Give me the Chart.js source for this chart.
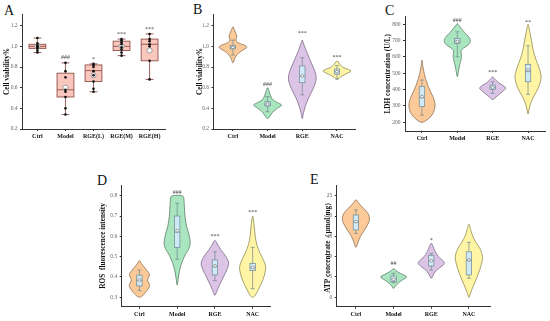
<!DOCTYPE html>
<html lang="en">
<head>
<meta charset="UTF-8">
<title>Cell viability, LDH, ROS and ATP panels</title>
<script src="https://cdn.jsdelivr.net/npm/chart.js"></script>
<style>
  body { margin: 0; background: #fff; }
  #fig { position: relative; width: 550px; height: 321px; overflow: hidden; }
  #fig canvas { position: absolute; }
  .tag { position: absolute; font-family: 'Liberation Serif', serif; font-size: 14px; line-height: 1; color: #111; }
</style>
</head>
<body>
<div id="fig">
  <span class="tag" style="left:4px;top:3.8px">A</span>
  <span class="tag" style="left:193px;top:3.3px">B</span>
  <span class="tag" style="left:385px;top:4.3px">C</span>
  <span class="tag" style="left:97px;top:173.6px">D</span>
  <span class="tag" style="left:310px;top:173.3px">E</span>

  <canvas id="chartA" width="180" height="145" style="left:0px;top:0px"></canvas>
  <canvas id="chartB" width="167" height="145" style="left:193px;top:0px"></canvas>
  <canvas id="chartC" width="168" height="147" style="left:382px;top:0px"></canvas>
  <canvas id="chartD" width="180" height="151" style="left:96px;top:170px"></canvas>
  <canvas id="chartE" width="176" height="151" style="left:320px;top:170px"></canvas>
</div>

<script>
// ---------- data ----------
const namesA = ['Ctrl', 'Model', 'RGE(L)', 'RGE(M)', 'RGE(H)'];
const names = ['Ctrl', 'Model', 'RGE', 'NAC'];

// A: cell viability, single wells + box stats [min, q1, median, q3, max]
const ptsA_Ctrl = [1.08, 1.03, 1.01, 1.00, 0.99, 0.98, 0.96, 0.94];
const ptsA_Model = [0.84, 0.76, 0.70, 0.58, 0.56, 0.51, 0.40, 0.34];
const ptsA_L = [0.83, 0.82, 0.80, 0.76, 0.72, 0.66, 0.59, 0.56];
const ptsA_M = [1.07, 1.06, 1.04, 1.02, 0.99, 0.97, 0.94, 0.91];
const ptsA_H = [1.12, 1.07, 1.05, 1.02, 1.00, 0.86, 0.68];
const boxA = [[0.94, 0.98, 1.00, 1.02, 1.08], [0.34, 0.51, 0.58, 0.74, 0.84], [0.56, 0.66, 0.765, 0.82, 0.83], [0.91, 0.96, 1.00, 1.05, 1.07], [0.68, 0.86, 1.02, 1.07, 1.12]];
const meanA = [1.00, 0.60, 0.72, 1.00, 0.96];
const markA = ['', '###', '*', '***', '***'];
const markPosA = [null, 0.894, 0.878, 1.117, 1.165];
const ticksA = [0.2, 0.4, 0.6, 0.8, 1.0, 1.2];

// violin profiles: [value, relative half width]
const violinB_Ctrl = [[0.84, 0], [0.87, 0.1], [0.90, 0.2], [0.94, 0.45], [0.97, 0.8], [0.99, 1.0], [1.01, 0.85], [1.03, 0.45], [1.05, 0.25], [1.07, 0.22], [1.10, 0.28], [1.13, 0.2], [1.16, 0.1], [1.19, 0]];
const violinB_Model = [[0.30, 0], [0.32, 0.15], [0.36, 0.35], [0.40, 0.7], [0.43, 1.0], [0.45, 0.8], [0.48, 0.4], [0.52, 0.22], [0.56, 0.12], [0.60, 0]];
const violinB_RGE = [[0.30, 0], [0.35, 0.08], [0.42, 0.22], [0.50, 0.45], [0.58, 0.75], [0.65, 0.95], [0.70, 1.0], [0.76, 0.9], [0.84, 0.65], [0.92, 0.4], [0.98, 0.22], [1.03, 0.08], [1.06, 0]];
const violinB_NAC = [[0.68, 0], [0.70, 0.2], [0.73, 0.6], [0.76, 1.0], [0.78, 0.75], [0.80, 0.4], [0.83, 0.18], [0.86, 0]];
const boxB = [[0.916, 0.975, 0.99, 1.01, 1.06], [0.367, 0.423, 0.44, 0.464, 0.513], [0.53, 0.648, 0.71, 0.81, 0.89], [0.684, 0.73, 0.755, 0.78, 0.813]];
const meanB = [0.99, 0.44, 0.715, 0.755];
const markB = ['', '###', '***', '***'];
const markPosB = [null, 0.636, 1.126, 0.894];

const violinC_Ctrl = [[200, 0], [210, 0.3], [230, 0.6], [260, 0.88], [300, 1.0], [340, 0.92], [380, 0.7], [420, 0.48], [460, 0.3], [500, 0.17], [540, 0.07], [580, 0]];
const violinC_Model = [[480, 0], [510, 0.08], [550, 0.18], [590, 0.3], [610, 0.32], [630, 0.28], [650, 0.4], [675, 0.85], [700, 1.0], [725, 0.85], [750, 0.55], [775, 0.3], [795, 0.1], [805, 0]];
const violinC_RGE = [[340, 0], [355, 0.25], [375, 0.55], [395, 0.85], [410, 1.0], [425, 0.8], [440, 0.5], [455, 0.28], [470, 0.1], [478, 0]];
const violinC_NAC = [[250, 0], [280, 0.08], [320, 0.22], [360, 0.45], [400, 0.72], [440, 0.92], [480, 1.0], [520, 0.9], [560, 0.72], [610, 0.5], [660, 0.35], [710, 0.24], [760, 0.12], [800, 0]];
const boxC = [[244, 297, 350, 418, 459], [601, 683, 697, 713, 754], [377, 402, 412, 428, 448], [371, 448, 510, 555, 668]];
const meanC = [357, 693, 412, 520];
const markC = ['', '###', '***', '**'];
const markPosC = [null, 822, 503, 809];
const ticksC = [200, 300, 400, 500, 600, 700, 800];

const violinD_Ctrl = [[0.30, 0], [0.315, 0.35], [0.335, 0.6], [0.355, 0.78], [0.37, 0.72], [0.385, 0.62], [0.40, 0.72], [0.415, 0.76], [0.43, 0.6], [0.45, 0.35], [0.465, 0.17], [0.48, 0]];
const violinD_Model = [[0.36, 0], [0.40, 0.1], [0.45, 0.25], [0.50, 0.55], [0.54, 0.9], [0.57, 1.0], [0.61, 0.9], [0.65, 0.72], [0.70, 0.6], [0.75, 0.55], [0.79, 0.5], [0.80, 0.35], [0.802, 0]];
const violinD_RGE = [[0.31, 0], [0.33, 0.15], [0.36, 0.35], [0.40, 0.65], [0.44, 0.95], [0.47, 1.05], [0.50, 0.85], [0.53, 0.5], [0.555, 0.25], [0.58, 0]];
const violinD_NAC = [[0.30, 0], [0.31, 0.2], [0.34, 0.45], [0.38, 0.75], [0.42, 0.95], [0.45, 1.0], [0.48, 0.85], [0.52, 0.55], [0.56, 0.32], [0.60, 0.2], [0.65, 0.12], [0.70, 0]];
const boxD = [[0.333, 0.356, 0.383, 0.409, 0.434], [0.487, 0.546, 0.62, 0.70, 0.763], [0.382, 0.41, 0.45, 0.484, 0.524], [0.342, 0.431, 0.445, 0.467, 0.546]];
const meanD = [0.385, 0.628, 0.455, 0.447];
const markD = ['', '###', '***', '***'];
const markPosD = [null, 0.817, 0.598, 0.716];
const ticksD = [0.3, 0.4, 0.5, 0.6, 0.7, 0.8];

const violinE_Ctrl = [[12.3, 0], [13.5, 0.15], [15, 0.35], [16.5, 0.65], [18, 0.92], [19.2, 1.05], [20.5, 0.95], [21.5, 0.7], [22.5, 0.4], [23.3, 0.18], [24, 0]];
const violinE_Model = [[2.2, 0], [2.8, 0.15], [3.5, 0.35], [4.3, 0.7], [5, 1.0], [5.6, 0.7], [6.2, 0.35], [6.6, 0.18], [7, 0]];
const violinE_RGE = [[4.7, 0], [5.5, 0.15], [6.5, 0.35], [7.5, 0.75], [8.3, 1.0], [9, 0.9], [10, 0.55], [11, 0.35], [12, 0.2], [12.8, 0.1], [13.3, 0]];
const violinE_NAC = [[0, 0], [1, 0.12], [2.5, 0.3], [4, 0.5], [6, 0.75], [8, 0.95], [10, 1.05], [12, 0.85], [13.5, 0.55], [15, 0.3], [16.5, 0.15], [18, 0]];
const boxE = [[15.7, 16.56, 18.5, 20.25, 21.5], [3.6, 3.84, 4.5, 5.24, 5.9], [6.7, 7.7, 9, 10.24, 10.8], [4.7, 5.5, 9, 11.2, 13.5]];
const meanE = [18.6, 4.4, 9.0, 9.2];
const markE = ['', '##', '*', ''];
const markPosE = [null, 8.4, 14.1, null];
const ticksE = [0, 5, 10, 15, 20, 25];

// ---------- drawing ----------
const violinFill = ['#fcca98', '#a9e5bf', '#dcc4e6', '#fff5a5'];
const violinLine = ['#8c7256', '#5d7f68', '#7d6b86', '#8f8a55'];
const serif = "'Liberation Serif', 'Times New Roman', serif";

function smoothClosed(ctx, pts) {
  const n = pts.length;
  ctx.moveTo(pts[0].x, pts[0].y);
  for (let i = 0; i < n; i++) {
    const p0 = pts[(i - 1 + n) % n], p1 = pts[i], p2 = pts[(i + 1) % n], p3 = pts[(i + 2) % n];
    ctx.bezierCurveTo(p1.x + (p2.x - p0.x) / 6, p1.y + (p2.y - p0.y) / 6,
                      p2.x - (p3.x - p1.x) / 6, p2.y - (p3.y - p1.y) / 6, p2.x, p2.y);
  }
  ctx.closePath();
}

function shapesPlugin(cfg) {
  return {
    id: 'shapes',
    beforeDatasetsDraw(chart) {
      const { ctx, scales: { x, y } } = chart;
      ctx.save();
      (cfg.violins || []).forEach((prof, i) => {
        const c = i + 1;
        const right = prof.map(([v, w]) => ({ x: x.getPixelForValue(c + w * cfg.spread), y: y.getPixelForValue(v) }));
        const left = prof.slice(1, -1).reverse().map(([v, w]) => ({ x: x.getPixelForValue(c - w * cfg.spread), y: y.getPixelForValue(v) }));
        ctx.beginPath();
        smoothClosed(ctx, right.concat(left));
        ctx.fillStyle = violinFill[i];
        ctx.fill();
        ctx.lineWidth = 0.8;
        ctx.strokeStyle = violinLine[i];
        ctx.stroke();
      });
      cfg.boxes.forEach(([lo, q1, md, q3, hi], i) => {
        const c = i + 1;
        const xc = x.getPixelForValue(c);
        const xl = x.getPixelForValue(c - cfg.boxHalf), xr = x.getPixelForValue(c + cfg.boxHalf);
        const cl = x.getPixelForValue(c - cfg.capHalf), cr = x.getPixelForValue(c + cfg.capHalf);
        const py = v => y.getPixelForValue(v);
        ctx.strokeStyle = cfg.boxLine;
        ctx.lineWidth = cfg.lineW;
        ctx.beginPath();
        ctx.moveTo(xc, py(hi)); ctx.lineTo(xc, py(q3));
        ctx.moveTo(xc, py(q1)); ctx.lineTo(xc, py(lo));
        ctx.moveTo(cl, py(hi)); ctx.lineTo(cr, py(hi));
        ctx.moveTo(cl, py(lo)); ctx.lineTo(cr, py(lo));
        ctx.stroke();
        ctx.fillStyle = cfg.boxFill;
        ctx.fillRect(xl, py(q3), xr - xl, py(q1) - py(q3));
        ctx.strokeRect(xl, py(q3), xr - xl, py(q1) - py(q3));
        ctx.beginPath();
        ctx.moveTo(xl, py(md)); ctx.lineTo(xr, py(md));
        ctx.stroke();
      });
      ctx.restore();
    },
    afterDatasetsDraw(chart) {
      const { ctx, scales: { x, y } } = chart;
      ctx.save();
      ctx.font = '6px ' + serif;
      ctx.fillStyle = '#444';
      ctx.textAlign = 'center';
      ctx.textBaseline = 'middle';
      cfg.marks.forEach((m, i) => {
        if (!m) return;
        ctx.fillText(m, x.getPixelForValue(i + 1), y.getPixelForValue(cfg.markPos[i]));
      });
      ctx.restore();
    }
  };
}

function panel(id, cfg) {
  const datasets = [];
  if (cfg.points) {
    datasets.push({
      data: cfg.points.flatMap((arr, i) => arr.map(v => ({ x: i + 1, y: v }))),
      pointRadius: 1.3, pointBackgroundColor: '#111', pointBorderWidth: 0
    });
  }
  datasets.push({
    data: cfg.means.map((v, i) => ({ x: i + 1, y: v })),
    pointRadius: cfg.meanR, pointBackgroundColor: '#fff', pointBorderColor: '#888', pointBorderWidth: 0.8
  });
  new Chart(document.getElementById(id), {
    type: 'scatter',
    data: { datasets },
    options: {
      responsive: false,
      animation: false,
      layout: { padding: cfg.pad },
      plugins: { legend: { display: false }, tooltip: { enabled: false } },
      scales: {
        x: {
          type: 'linear', min: cfg.xMin, max: cfg.xMax,
          afterFit: s => { s.height = cfg.xH; },
          afterBuildTicks: s => { s.ticks = cfg.names.map((n, i) => ({ value: i + 1 })); },
          ticks: { callback: v => cfg.names[v - 1], font: { family: serif, size: 6, weight: 'bold' }, color: '#111', padding: 2, maxRotation: 0 },
          grid: { drawOnChartArea: false, drawTicks: true, tickLength: 2, color: '#333' },
          border: { display: true, color: '#333', width: 1 }
        },
        y: {
          min: cfg.yMin, max: cfg.yMax,
          afterFit: s => { s.width = cfg.yW; },
          afterBuildTicks: s => { s.ticks = cfg.ticks.map(v => ({ value: v })); },
          ticks: { callback: v => v.toFixed(cfg.dec), font: { family: serif, size: 5.5 }, color: '#666', padding: 2.5 },
          grid: { drawOnChartArea: false, drawTicks: true, tickLength: 2, color: '#333' },
          border: { display: true, color: '#333', width: 1 },
          title: { display: true, text: cfg.title, font: { family: serif, size: 7.3, weight: 'bold', lineHeight: 1.2 }, color: '#111', padding: { top: 0, bottom: 2 } }
        }
      }
    },
    plugins: [shapesPlugin(cfg)]
  });
}

panel('chartA', {
  names: namesA, points: [ptsA_Ctrl, ptsA_Model, ptsA_L, ptsA_M, ptsA_H],
  boxes: boxA, means: meanA, meanR: 2.6, marks: markA, markPos: markPosA,
  boxHalf: 0.3, capHalf: 0.14, boxFill: '#fac7be', boxLine: '#8e5048', lineW: 0.9,
  xMin: 0.45, xMax: 5.55, yMin: 0.2, yMax: 1.313, ticks: ticksA, dec: 1,
  pad: { left: 2.3, top: 14, right: 15, bottom: 0 }, yW: 19.7, xH: 16, title: 'Cell viability%'
});

panel('chartB', {
  names: names, violins: [violinB_Ctrl, violinB_Model, violinB_RGE, violinB_NAC], spread: 0.4,
  boxes: boxB, means: meanB, meanR: 1.4, marks: markB, markPos: markPosB,
  boxHalf: 0.078, capHalf: 0.058, boxFill: '#cfeaf6', boxLine: '#6f8791', lineW: 0.7,
  xMin: 0.44, xMax: 4.52, yMin: 0.2, yMax: 1.313, ticks: ticksA, dec: 1,
  pad: { left: 2.6, top: 14, right: 5, bottom: 0 }, yW: 17.9, xH: 16, title: 'Cell viability%'
});

panel('chartC', {
  names: names, violins: [violinC_Ctrl, violinC_Model, violinC_RGE, violinC_NAC], spread: 0.37,
  boxes: boxC, means: meanC, meanR: 1.4, marks: markC, markPos: markPosC,
  boxHalf: 0.077, capHalf: 0.057, boxFill: '#cfeaf6', boxLine: '#6f8791', lineW: 0.7,
  xMin: 0.52, xMax: 4.48, yMin: 146.7, yMax: 846.5, ticks: ticksC, dec: 0,
  pad: { left: 1.9, top: 16.7, right: 5, bottom: 0 }, yW: 21.1, xH: 16, title: 'LDH concentration (U/L)'
});

panel('chartD', {
  names: names, violins: [violinD_Ctrl, violinD_Model, violinD_RGE, violinD_NAC], spread: 0.345,
  boxes: boxD, means: meanD, meanR: 1.4, marks: markD, markPos: markPosD,
  boxHalf: 0.072, capHalf: 0.053, boxFill: '#cfeaf6', boxLine: '#6f8791', lineW: 0.7,
  xMin: 0.53, xMax: 4.46, yMin: 0.2537, yMax: 0.8527, ticks: ticksD, dec: 1,
  pad: { left: 2.9, top: 15, right: 6, bottom: 0 }, yW: 22.8, xH: 14.3, title: 'ROS  fluorescence intensity'
});

panel('chartE', {
  names: names, violins: [violinE_Ctrl, violinE_Model, violinE_RGE, violinE_NAC], spread: 0.345,
  boxes: boxE, means: meanE, meanR: 1.4, marks: markE, markPos: markPosE,
  boxHalf: 0.072, capHalf: 0.053, boxFill: '#cfeaf6', boxLine: '#6f8791', lineW: 0.7,
  xMin: 0.49, xMax: 4.56, yMin: -2.31, yMax: 27.63, ticks: ticksE, dec: 0,
  pad: { left: 3.9, top: 15, right: 6, bottom: 0 }, yW: 12.8, xH: 14.3, title: 'ATP concentrate（μmol/mg）'
});
</script>
</body>
</html>
